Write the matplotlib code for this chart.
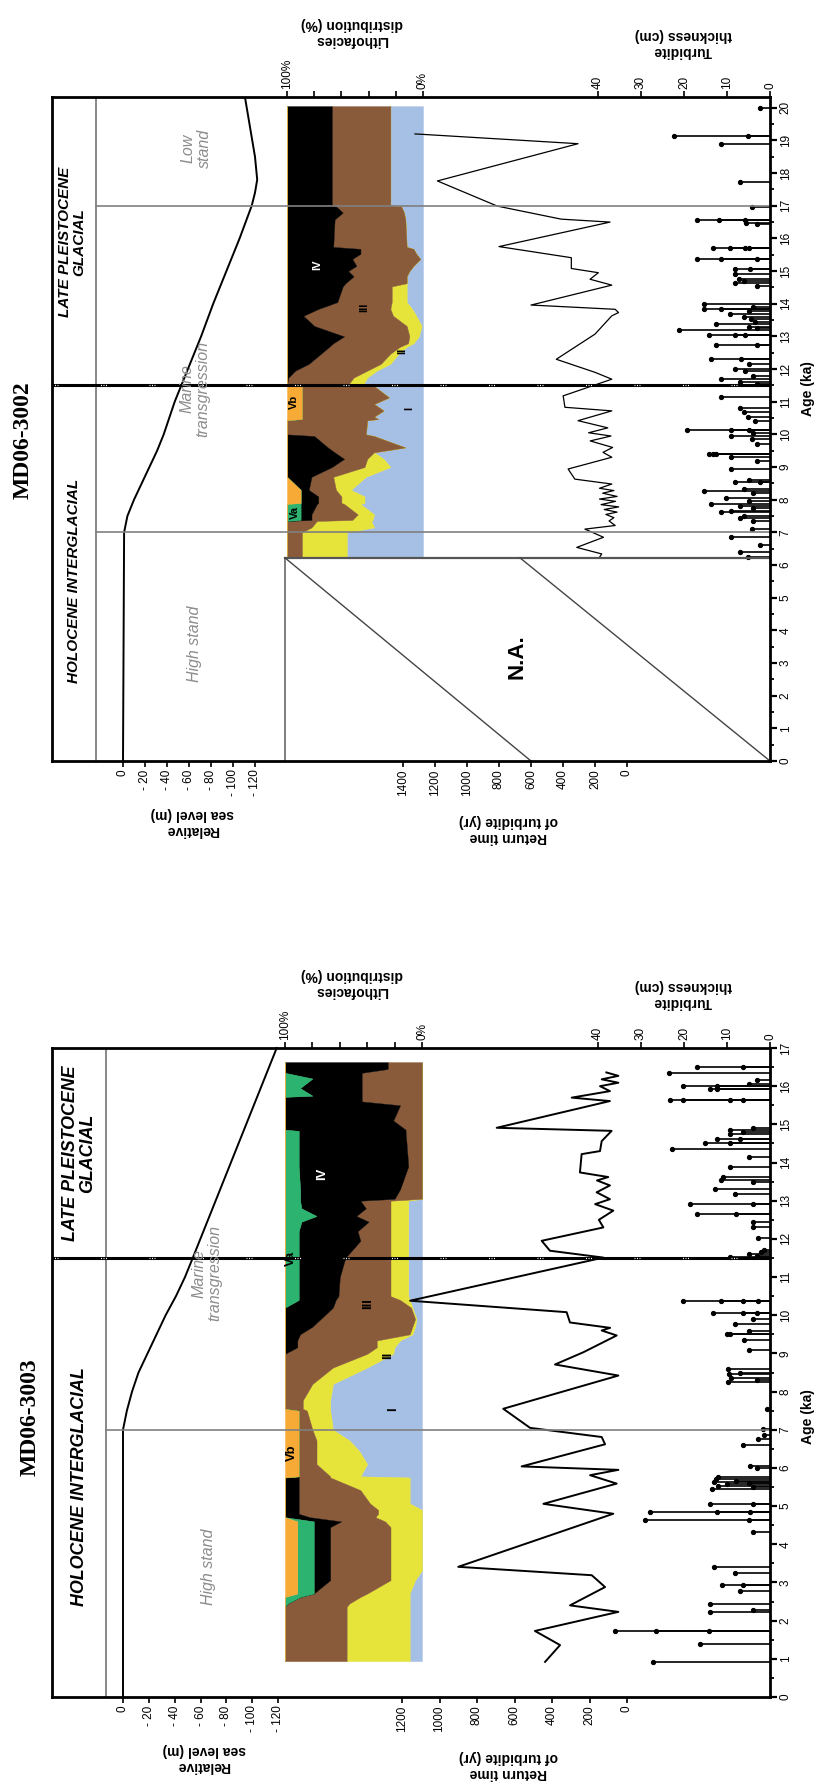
import numpy as np
import matplotlib
matplotlib.use("Agg")
import matplotlib.pyplot as plt

W, H = 818, 1791
plt.rcParams['font.family'] = ['Liberation Sans', 'DejaVu Sans']

FACIES = ['I', 'II', 'III', 'IV', 'Va', 'Vb']
FACIES_COLORS = ['#a6bfe4', '#e6e43a', '#8a5b3a', '#000000', '#2cb36f', '#f7aa35']

# ---------------- MD06-3002 (upper panel) ----------------
sl_age_3002 = [0, 7, 7.5, 8, 8.5, 9, 9.5, 10, 10.5, 11, 11.5, 12, 13, 14, 15, 16, 17, 17.4, 17.8, 18.5, 19.5, 20.3]
sl_m_3002 = [0, -1, -4, -10, -17, -24, -31, -37, -42, -47, -53, -59, -71, -82, -94, -106, -117, -120, -122, -120, -115, -111]

rt_age_3002 = [19.2, 18.9, 17.76, 16.99, 16.59, 16.5, 15.75, 15.41, 15.08, 14.95, 14.75, 14.57, 13.96,
               13.83, 13.73, 13.63, 13.07, 12.3, 11.9, 11.69, 11.18, 10.83, 10.72, 10.42, 10.2, 10.05,
               9.95, 9.8, 9.6, 9.45, 9.3, 8.94, 8.63, 8.48, 8.35, 8.28, 8.2, 8.1, 8.02, 7.95, 7.85,
               7.78, 7.7, 7.62, 7.55, 7.45, 7.35, 7.21, 7.1, 6.85, 6.54, 6.34, 6.25]
rt_yr_3002 = [1325, 306, 1185, 811, 411, 106, 800, 348, 348, 179, 231, 95, 600,
              74, 53, 95, 200, 442, 200, 95, 399, 388, 95, 306, 120, 240,
              100, 230, 90, 150, 95, 368, 326, 95, 172, 82, 152, 62, 172, 72, 162,
              52, 142, 62, 132, 82, 112, 74, 263, 147, 314, 158, 170]

tb_age_3002 = [20.0, 19.15, 19.15, 18.88, 17.73, 16.96, 16.56, 16.56, 16.56, 16.48, 16.45,
               15.72, 15.72, 15.72, 15.72, 15.36, 15.36, 15.36, 15.06, 15.06, 14.9, 14.77, 14.7,
               14.62, 14.55, 13.99, 13.9, 13.83, 13.83, 13.78, 13.68, 13.6, 13.52, 13.45, 13.37,
               13.3, 13.25, 13.19, 13.04, 13.04, 13.04, 12.73, 12.73, 12.3, 12.3, 12.15, 12.0,
               11.95, 11.8, 11.7, 11.6, 11.55, 11.16, 10.8, 10.7, 10.52, 10.4, 10.14, 10.14,
               10.14, 10.05, 9.96, 9.85, 9.7, 9.4, 9.4, 9.4, 9.3, 9.2, 8.94, 8.6, 8.53, 8.53,
               8.33, 8.26, 8.2, 8.04, 7.95, 7.87, 7.8, 7.75, 7.65, 7.61, 7.5, 7.43, 7.35, 7.1,
               6.85, 6.6, 6.41, 6.24]
tb_cm_3002 = [2.4, 22.4, 5.1, 11.4, 7.0, 4.3, 16.9, 11.8, 5.9, 5.5, 3.0,
              13.3, 9.4, 5.9, 5.0, 16.9, 11.4, 3.1, 8.2, 4.7, 8.2, 7.1, 6.0,
              8.2, 3.1, 15.3, 4.0, 15.3, 11.4, 5.0, 9.4, 6.0, 4.5, 3.5, 12.5,
              5.0, 3.0, 21.2, 14.1, 8.2, 5.9, 12.5, 3.1, 13.7, 6.7, 5.0, 8.2,
              5.9, 4.0, 11.4, 7.0, 3.0, 11.4, 7.0, 6.0, 5.1, 3.5, 19.2, 9.0,
              5.0, 4.0, 9.0, 4.3, 3.0, 14.1, 13.3, 12.5, 9.0, 3.0, 9.0, 5.0, 8.2, 2.4,
              6.0, 15.3, 4.0, 10.2, 5.0, 13.7, 7.0, 4.0, 9.0, 11.4, 6.0, 7.0, 4.0, 4.3,
              9.0, 2.4, 7.0, 5.1]

lf_age_3002 = [20.05, 17.02, 16.98, 16.79, 16.58, 15.74, 15.68, 15.53, 15.37, 15.16, 15.0, 14.84,
               14.63, 14.53, 14.05, 13.84, 13.63, 13.32, 13.0, 12.79, 12.68, 12.47, 12.16, 11.95,
               11.74, 11.52, 11.48, 11.13, 10.93, 10.73, 10.54, 10.47, 10.43, 10.0, 9.95, 9.6,
               9.45, 9.25, 9.0, 8.7, 8.3, 8.1, 7.9, 7.87, 7.55, 7.38, 7.35, 7.15, 7.0, 6.22]
lf_I_3002 = [24, 24, 16, 14, 13, 12, 7, 5, 2, 7, 10, 12, 12, 12, 12, 8, 5, 1, 3, 7, 12, 18, 24, 34,
             41, 44, 36, 25, 36, 29, 36, 33, 41, 42, 36, 13, 36, 29, 24, 42, 53, 43, 43, 46, 36, 37,
             38, 36, 56, 56]
lf_II_3002 = [0, 0, 0, 0, 0, 0, 0, 0, 0, 0, 0, 0, 0, 11, 11, 16, 17, 11, 7, 4, 5, 6, 7, 7,
              10, 11, 0, 0, 0, 0, 0, 0, 0, 0, 0, 0, 0, 12, 19, 24, 11, 17, 17, 12, 12, 15,
              40, 46, 33, 33]
lf_III_3002 = [43, 43, 48, 45, 52, 54, 39, 41, 50, 42, 45, 39, 45, 36, 40, 53, 66, 68, 48, 55, 52, 51, 53, 53,
               48, 45, 53, 64, 53, 60, 53, 56, 59, 58, 44, 57, 29, 17, 24, 16, 20, 17, 17, 20, 34, 30,
               22, 18, 11, 11]
lf_IV_3002 = [33, 33, 36, 41, 35, 34, 54, 54, 48, 51, 45, 49, 43, 41, 37, 23, 12, 20, 42, 34, 31, 25, 16, 6,
              1, 0, 0, 0, 0, 0, 0, 0, 0, 0, 20, 30, 35, 42, 33, 18, 6, 13, 13, 12, 8, 8,
              0, 0, 0, 0]
lf_Va_3002 = [0] * 43 + [10, 10, 10, 0, 0, 0, 0]
lf_Vb_3002 = [0] * 26 + [11, 11, 11, 11, 11, 11, 0, 0, 0, 0, 0, 0, 0, 0, 10, 10, 10, 0, 0, 0, 0, 0, 0, 0]

# ---------------- MD06-3003 (lower panel) ----------------
sl_age_3003 = [0, 7, 7.5, 8, 8.5, 9, 9.5, 10, 10.5, 11, 11.5, 17]
sl_m_3003 = [0, 0, -3, -7, -12, -19, -26, -33, -41, -48, -54, -119]

rt_age_3003 = [0.92, 1.36, 1.73, 2.23, 2.4, 2.88, 3.19, 3.41, 4.8, 5.06, 5.59, 5.81, 5.95, 6.04, 6.62,
               6.81, 7.05, 7.55, 8.42, 8.71, 9.03, 9.47, 9.6, 9.67, 9.81, 10.08, 10.38, 11.51, 11.69,
               11.95, 12.3, 12.5, 12.74, 12.91, 13.04, 13.22, 13.4, 13.53, 13.62, 13.74, 14.22, 14.3,
               14.56, 14.83, 14.91, 15.61, 15.7, 15.87, 16.0, 16.09, 16.18, 16.27, 16.36]
rt_yr_3003 = [437, 357, 491, 46, 304, 117, 188, 900, 73, 446, 55, 197, 46, 562, 117,
              135, 517, 660, 46, 384, 233, 55, 135, 90, 304, 322, 1157, 126, 411,
              455, 126, 150, 73, 170, 91, 162, 91, 160, 100, 251, 242, 144,
              135, 82, 695, 91, 295, 91, 144, 46, 135, 46, 110]

tb_age_3003 = [0.92, 1.39, 1.73, 1.73, 1.73, 2.23, 2.27, 2.43, 2.78, 2.93, 2.93, 3.24, 3.41,
               4.32, 4.64, 4.64, 4.84, 4.84, 4.84, 5.05, 5.05, 5.45, 5.5, 5.52, 5.57, 5.6, 5.62,
               5.66, 5.7, 5.76, 6.0, 6.04, 6.59, 6.77, 6.85, 7.03, 7.55, 8.25, 8.3, 8.36, 8.45,
               8.5, 8.58, 9.1, 9.36, 9.51, 9.51, 9.6, 9.77, 9.9, 10.06, 10.06, 10.06, 10.38,
               10.38, 10.38, 10.38, 11.53, 11.55, 11.6, 11.65, 11.7, 12.03, 12.3, 12.43, 12.66,
               12.66, 12.91, 12.91, 13.17, 13.3, 13.48, 13.54, 13.62, 13.88, 14.14, 14.35, 14.5,
               14.5, 14.62, 14.62, 14.75, 14.8, 14.85, 14.9, 15.63, 15.63, 15.63, 15.63, 15.93,
               15.93, 16.01, 16.01, 16.05, 16.15, 16.34, 16.51, 16.51]
tb_cm_3003 = [27.1, 16.3, 36.0, 26.5, 14.1, 14.0, 4.0, 14.0, 7.0, 11.2, 6.2, 8.1, 13.0,
              3.9, 29.0, 5.0, 28.0, 12.4, 4.7, 14.0, 3.9, 13.5, 4.0, 12.0, 10.0, 5.0, 13.0,
              8.0, 12.5, 12.0, 3.0, 4.7, 6.2, 2.7, 1.5, 1.6, 0.8, 9.8, 3.0, 9.0, 9.5,
              7.0, 9.8, 5.0, 6.0, 9.3, 10.0, 5.0, 8.1, 4.0, 13.2, 6.2, 3.1, 20.2,
              11.3, 6.2, 2.7, 9.3, 3.0, 5.0, 2.0, 1.5, 2.7, 3.9, 3.9, 17.0,
              8.0, 18.6, 3.9, 8.1, 12.8, 3.9, 11.3, 11.0, 9.3, 5.0, 22.9, 15.1,
              9.3, 12.4, 7.0, 9.3, 6.2, 9.3, 4.0, 23.3, 20.2, 9.3, 6.2, 14.0,
              12.4, 20.2, 12.4, 5.0, 3.0, 23.6, 17.0, 6.2]

lf_age_3003 = [16.63, 16.45, 16.35, 16.2, 15.95, 15.75, 15.72, 15.6, 15.5, 15.1, 14.86, 14.83, 13.9,
               13.3, 13.05, 13.0, 12.8, 12.6, 12.45, 12.2, 11.95, 11.5, 11.0, 10.5, 10.4, 10.2, 9.9,
               9.7, 9.5, 9.34, 9.16, 8.99, 8.63, 8.2, 7.77, 7.55, 7.5, 7.0, 6.72, 6.45, 6.1, 5.78,
               5.75, 5.42, 5.07, 4.9, 4.8, 4.71, 4.6, 4.45, 3.32, 3.06, 2.71, 2.62, 2.45, 2.36, 0.94]
lf_I_3003 = [0] * 15 + [10, 10, 10, 10, 10, 10, 10, 10, 10, 9, 7, 4, 5, 7, 16, 20, 21, 40, 65, 67, 67,
                       67, 65, 53, 46, 40, 45, 9, 9, 9, 0, 0, 0, 0, 0, 0, 5, 9, 9, 9, 9, 9]
lf_II_3003 = [0] * 15 + [13, 13, 13, 13, 13, 13, 13, 13, 13, 7, 1, 1, 2, 2, 17, 13, 19, 25, 15, 20, 20,
                        17, 15, 24, 31, 37, 22, 58, 36, 29, 32, 32, 34, 27, 23, 23, 18, 31, 36, 44, 46, 46]
lf_III_3003 = [25, 25, 44, 44, 44, 44, 44, 44, 16, 21, 12, 12, 10, 16, 20, 22, 18, 25, 16, 24, 22, 33, 37,
               38, 47, 57, 69, 73, 80, 58, 58, 60, 35, 20, 13, 13, 6, 10, 13, 13, 13, 23, 23, 45, 52,
               58, 58, 48, 32, 44, 44, 44, 39, 44, 45, 45, 45]
lf_IV_3003 = [75, 75, 56, 36, 45, 36, 56, 56, 84, 79, 88, 78, 80, 73, 69, 44, 47, 29, 49, 43, 45, 34, 30,
              29, 27, 35, 26, 20, 11, 9, 9, 0, 0, 0, 0, 0, 0, 0, 0, 0, 0, 0, 10, 10, 10, 10, 10, 18,
              20, 12, 12, 12, 0, 0, 0, 0, 0]
lf_Va_3003 = [0, 0, 0, 20, 11, 20, 0, 0, 0, 0, 0, 10, 10, 11, 11, 11, 12, 23, 12, 10, 10, 10, 10, 10, 10,
              0, 0, 0, 0, 0, 0, 0, 0, 0, 0, 0, 0, 0, 0, 0, 0, 0, 0, 0, 0, 0, 0, 0, 12, 12, 12, 12, 12,
              11, 2, 0, 0]
lf_Vb_3003 = [0] * 36 + [10, 10, 10, 10, 10, 10, 0, 0, 0, 0, 0, 0, 9, 9, 9, 9, 9, 0, 0, 0, 0]

PANELS = [
    dict(name='MD06-3002', ytop=97, ybot=761, ymax=20.33, div=96, sea=(123, 255), lit=(287, 423),
         rt=(403, 627), rt_max=1400, periods=[7, 17], title_xy=(23, 440), sfs=1.0,
         sl=(sl_age_3002, sl_m_3002), rtd=(rt_age_3002, rt_yr_3002), tb=(tb_age_3002, tb_cm_3002),
         lf=(lf_age_3002, [lf_I_3002, lf_II_3002, lf_III_3002, lf_IV_3002, lf_Va_3002, lf_Vb_3002]),
         rt_lw=0.9, age_lab=11.4,
         lf_text=[('IV', 78, 15.2, 'w'), ('III', 43, 13.9, 'k'), ('II', 15, 12.55, 'k'),
                  ('Vb', 95, 11.0, 'k'), ('I', 10, 10.8, 'k'), ('Va', 94, 7.6, 'k')],
         gray_text=[('High stand', 195, 3.6), ('Marine\ntransgression', 195, 11.4), ('Low\nstand', 196, 18.75)],
         holo=(74, 5.5), late=(72, 15.9)),
    dict(name='MD06-3003', ytop=1048, ybot=1697, ymax=17.0, div=106, sea=(123, 278), lit=(285, 422),
         rt=(402, 627), rt_max=1200, periods=[7], title_xy=(30, 1417), sfs=1.17,
         sl=(sl_age_3003, sl_m_3003), rtd=(rt_age_3003, rt_yr_3003), tb=(tb_age_3003, tb_cm_3003),
         lf=(lf_age_3003, [lf_I_3003, lf_II_3003, lf_III_3003, lf_IV_3003, lf_Va_3003, lf_Vb_3003]),
         rt_lw=1.4, age_lab=7.35,
         lf_text=[('IV', 73, 13.7, 'w'), ('Va', 96, 11.5, 'k'), ('III', 39, 10.3, 'k'),
                  ('II', 25, 8.95, 'k'), ('I', 21, 7.55, 'k'), ('Vb', 95, 6.4, 'k')],
         gray_text=[('High stand', 208, 3.4), ('Marine\ntransgression', 207, 11.1)],
         holo=(80, 5.5), late=(79, 14.25)),
]

FX0, FX1 = 52, 770
TH_LEFT = 598  # 40 cm


def px_axes(fig, x0, x1, ytop, ybot):
    ax = fig.add_axes([x0 / W, 1 - ybot / H, (x1 - x0) / W, (ybot - ytop) / H])
    ax.set_facecolor('none')
    for s in ax.spines.values():
        s.set_visible(False)
    ax.set_yticks([])
    return ax


def fx(px):
    return (px - FX0) / (FX1 - FX0)


fig = plt.figure(figsize=(W / 100, H / 100), dpi=100)

for P in PANELS:
    top, bot, ymax = P['ytop'], P['ybot'], P['ymax']
    s = P['sfs']

    # sea level
    ax = px_axes(fig, P['sea'][0], P['sea'][1], top, bot)
    ax.set_ylim(0, ymax)
    ax.set_xlim(0, -120)
    ax.plot(P['sl'][1], P['sl'][0], color='k', lw=1.4, clip_on=False)
    ticks = list(range(0, -121, -20))
    ax.set_xticks(ticks)
    ax.set_xticklabels(['0'] + ['- %d' % -t for t in ticks[1:]])
    ax.tick_params(axis='x', direction='out', length=4, width=1.2, labelsize=8.5,
                   labelrotation=90, pad=2)

    # lithofacies
    ax = px_axes(fig, P['lit'][0], P['lit'][1], top, bot)
    ax.set_ylim(0, ymax)
    ax.set_xlim(100, 0)
    age = np.array(P['lf'][0], float)
    parts = np.array(P['lf'][1], float)
    parts = parts / parts.sum(axis=0) * 100
    cum = np.vstack([np.zeros(len(age)), np.cumsum(parts, axis=0)])
    for i, c in enumerate(FACIES_COLORS):
        ax.fill_betweenx(age, cum[i], cum[i + 1], facecolor=c, edgecolor=c, lw=0.3)
    for txt, xv, yv, col in P['lf_text']:
        ax.text(xv, yv, txt, rotation=90, ha='center', va='center', color=col,
                fontsize=8 * s, fontweight='bold')
    ax.xaxis.tick_top()
    ax.set_xticks(range(0, 101, 20))
    ax.set_xticklabels(['0%', '', '', '', '', '100%'])
    ax.tick_params(axis='x', direction='out', length=4, width=1.2, labelsize=8.5,
                   labelrotation=90, pad=2)

    # return time
    ax = px_axes(fig, P['rt'][0], P['rt'][1], top, bot)
    ax.set_ylim(0, ymax)
    ax.set_xlim(P['rt_max'], 0)
    ax.plot(P['rtd'][1], P['rtd'][0], color='k', lw=P['rt_lw'], clip_on=False)
    ax.set_xticks(range(0, P['rt_max'] + 1, 200))
    ax.tick_params(axis='x', direction='out', length=4, width=1.2, labelsize=8.5,
                   labelrotation=90, pad=2)

    # turbidite thickness
    ax = px_axes(fig, TH_LEFT, FX1, top, bot)
    ax.set_ylim(0, ymax)
    ax.set_xlim(40, 0)
    ax.hlines(P['tb'][0], 0, P['tb'][1], color='k', lw=1.2)
    ax.plot(P['tb'][1], P['tb'][0], 'o', color='k', ms=2.8, clip_on=False)
    ax.xaxis.tick_top()
    ax.set_xticks([0, 10, 20, 30, 40])
    ax.tick_params(axis='x', direction='out', length=4, width=1.2, labelsize=8.5,
                   labelrotation=90, pad=2)

    # frame and age axis
    ax = fig.add_axes([FX0 / W, 1 - bot / H, (FX1 - FX0) / W, (bot - top) / H])
    ax.set_facecolor('none')
    ax.set_xlim(0, 1)
    ax.set_ylim(0, ymax)
    for sp in ax.spines.values():
        sp.set_linewidth(2)
    ax.set_xticks([])
    ax.yaxis.tick_right()
    ax.set_yticks(range(0, int(ymax) + 1))
    ax.set_yticks(np.arange(0.5, ymax, 1.0), minor=True)
    ax.tick_params(axis='y', which='major', direction='out', length=5, width=1.6,
                   labelsize=8.5, labelrotation=90, pad=2)
    ax.tick_params(axis='y', which='minor', direction='out', length=3, width=1.3)
    for lab in ax.get_yticklabels():
        lab.set_va('center')
    ax.axvline(fx(P['div']), color='#7f7f7f', lw=1.3)
    for p in P['periods']:
        ax.plot([fx(P['div']), 1], [p, p], color='#808080', lw=1.2)
    ax.axhline(11.5, color='k', lw=2.2)
    ax.axhline(11.5, color='w', lw=0.9, dashes=(0.8, 1.2, 0.8, 1.2, 0.8, 34))

    ax.text(fx(P['holo'][0]), P['holo'][1], 'HOLOCENE INTERGLACIAL', rotation=90,
            ha='center', va='center', fontsize=11 * s, fontweight='bold', style='italic')
    ax.text(fx(P['late'][0]), P['late'][1], 'LATE PLEISTOCENE\nGLACIAL', rotation=90,
            ha='center', va='center', multialignment='center', fontsize=11 * s,
            fontweight='bold', style='italic', linespacing=1.05)
    for txt, xp, yv in P['gray_text']:
        ax.text(fx(xp), yv, txt, rotation=90, ha='center', va='center', color='#8c8c8c',
                fontsize=11.5, style='italic', multialignment='center', linespacing=1.1)

    if P['name'] == 'MD06-3002':
        na_top = P['lf'][0][-1]
        x_l = fx(P['lit'][0] - 2)
        ax.plot([x_l, x_l], [0, na_top], color='#7f7f7f', lw=1.4)
        ax.plot([x_l, 1], [na_top, na_top], color='#555555', lw=1.6)
        ax.plot([x_l, fx(P['rt'][1] - 600 / P['rt_max'] * (P['rt'][1] - P['rt'][0]))],
                [na_top, 0], color='#444444', lw=1.0)
        ax.plot([fx(520), 1], [na_top, 0], color='#444444', lw=1.0)
        ax.text(fx(517), 3.2, 'N.A.', rotation=90, ha='center', va='center',
                fontsize=16, fontweight='bold')

    ax.text(fx(808), P['age_lab'], 'Age (ka)', rotation=90, ha='center', va='center',
            fontsize=10, fontweight='bold', clip_on=False)

    # titles and axis labels (figure pixel positions)
    fig.text(P['title_xy'][0] / W, 1 - P['title_xy'][1] / H, P['name'], rotation=90,
             ha='center', va='center', fontsize=17, fontweight='bold',
             family=['Liberation Serif', 'DejaVu Serif'])
    lab_kw = dict(rotation=180, ha='center', va='center', fontsize=10, fontweight='bold',
                  multialignment='center', linespacing=1.15)
    fig.text((P['sea'][0] + P['sea'][1]) / 2 / W + 0.004, 1 - (bot + 61) / H,
             'Relative\nsea level (m)', **lab_kw)
    fig.text(508 / W, 1 - (bot + 68) / H, 'Return time\nof turbidite (yr)', **lab_kw)
    fig.text(352 / W, 1 - (top - 65) / H, 'Lithofacies\ndistribution (%)', **lab_kw)
    fig.text(683 / W, 1 - (top - 54) / H, 'Turbidite\nthickness (cm)', **lab_kw)

fig.savefig('out.png', dpi=100)
